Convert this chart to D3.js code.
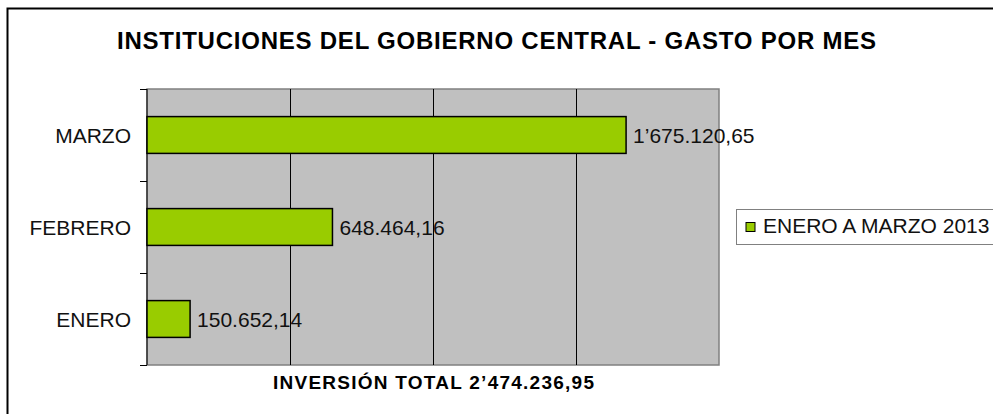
<!DOCTYPE html>
<html>
<head>
<meta charset="utf-8">
<script src="https://cdn.jsdelivr.net/npm/d3@7"></script>
<style>
  body { margin: 0; background: #fff; }
  text { font-family: "Liberation Sans", Arial, sans-serif; }
</style>
</head>
<body>
<script>
// data
let months = ["MARZO", "FEBRERO", "ENERO"]
let spending = [1675120.65, 648464.16, 150652.14]
let valueLabels = ["1\u2019675.120,65", "648.464,16", "150.652,14"]
let xTicks = [0, 500000, 1000000, 1500000, 2000000]
let seriesName = "ENERO A MARZO 2013"
let chartTitle = "INSTITUCIONES DEL GOBIERNO CENTRAL - GASTO POR MES"
let axisTitle = "INVERSI\u00d3N TOTAL 2\u2019474.236,95"

let W = 993, H = 414
let plot = {left: 147, top: 89, right: 719, bottom: 365}

let svg = d3.select("body").append("svg")
    .attr("width", W)
    .attr("height", H)

// outer frame (runs off the right/bottom edge like the source)
svg.append("rect")
    .attr("x", 7.5).attr("y", 8.5)
    .attr("width", W).attr("height", H)
    .attr("fill", "none")
    .attr("stroke", "#000")
    .attr("stroke-width", 2)

svg.append("text")
    .attr("x", 117).attr("y", 49)
    .attr("textLength", 759)
    .attr("lengthAdjust", "spacing")
    .style("font-size", "24px")
    .style("font-weight", "bold")
    .text(chartTitle)

let x = d3.scaleLinear()
    .domain([0, 2000000])
    .range([plot.left, plot.right])

let y = d3.scaleBand()
    .domain(months)
    .range([plot.top, plot.bottom])
    .paddingInner(0.6)
    .paddingOuter(0.3)

// plot background
svg.append("rect")
    .attr("x", plot.left).attr("y", plot.top)
    .attr("width", plot.right - plot.left)
    .attr("height", plot.bottom - plot.top)
    .attr("fill", "#c0c0c0")
    .attr("stroke", "#808080")
    .attr("stroke-width", 1.5)

// gridlines
svg.append("g")
    .selectAll("line")
    .data(xTicks.slice(1, -1))
    .enter().append("line")
    .attr("x1", d => Math.round(x(d)) + 0.5)
    .attr("x2", d => Math.round(x(d)) + 0.5)
    .attr("y1", plot.top)
    .attr("y2", plot.bottom)
    .attr("stroke", "#000")
    .attr("stroke-width", 1)

// y axis with ticks at band edges
let edges = d3.range(months.length + 1).map(i => plot.top + i * (plot.bottom - plot.top) / months.length)
let yAxis = svg.append("g")
yAxis.append("line")
    .attr("x1", plot.left).attr("x2", plot.left)
    .attr("y1", plot.top).attr("y2", plot.bottom)
    .attr("stroke", "#000")
yAxis.selectAll(".tk")
    .data(edges)
    .enter().append("line")
    .attr("class", "tk")
    .attr("x1", plot.left - 7).attr("x2", plot.left)
    .attr("y1", d => Math.round(d) + 0.5)
    .attr("y2", d => Math.round(d) + 0.5)
    .attr("stroke", "#000")

yAxis.selectAll(".lbl")
    .data(months)
    .enter().append("text")
    .attr("class", "lbl")
    .attr("x", plot.left - 16)
    .attr("y", d => y(d) + y.bandwidth() / 2)
    .attr("dy", "0.36em")
    .attr("text-anchor", "end")
    .style("font-size", "21px")
    .style("fill", "#111")
    .text(d => d)

// bars
svg.append("g")
    .selectAll("rect")
    .data(spending)
    .enter().append("rect")
    .attr("x", x(0))
    .attr("y", (d, i) => y(months[i]))
    .attr("width", d => x(d) - x(0))
    .attr("height", y.bandwidth())
    .attr("fill", "#99cc00")
    .attr("stroke", "#000")
    .attr("stroke-width", 1.5)

// value labels
svg.append("g")
    .selectAll("text")
    .data(spending)
    .enter().append("text")
    .attr("x", d => x(d) + 7)
    .attr("y", (d, i) => y(months[i]) + y.bandwidth() / 2)
    .attr("dy", "0.36em")
    .style("font-size", "21px")
    .style("fill", "#111")
    .text((d, i) => valueLabels[i])

svg.append("text")
    .attr("x", 273).attr("y", 389)
    .attr("textLength", 321)
    .attr("lengthAdjust", "spacing")
    .style("font-size", "19px")
    .style("font-weight", "bold")
    .text(axisTitle)

// legend
let lg = svg.append("g").attr("transform", "translate(736,209)")
lg.append("rect")
    .attr("x", 0.5).attr("y", 0.5)
    .attr("width", 300).attr("height", 35)
    .attr("fill", "#fff")
    .attr("stroke", "#808080")
lg.append("rect")
    .attr("x", 10).attr("y", 13.5)
    .attr("width", 9).attr("height", 9)
    .attr("fill", "#99cc00")
    .attr("stroke", "#000")
lg.append("text")
    .attr("x", 27).attr("y", 24)
    .style("font-size", "21px")
    .style("fill", "#111")
    .text(seriesName)
</script>
</body>
</html>
